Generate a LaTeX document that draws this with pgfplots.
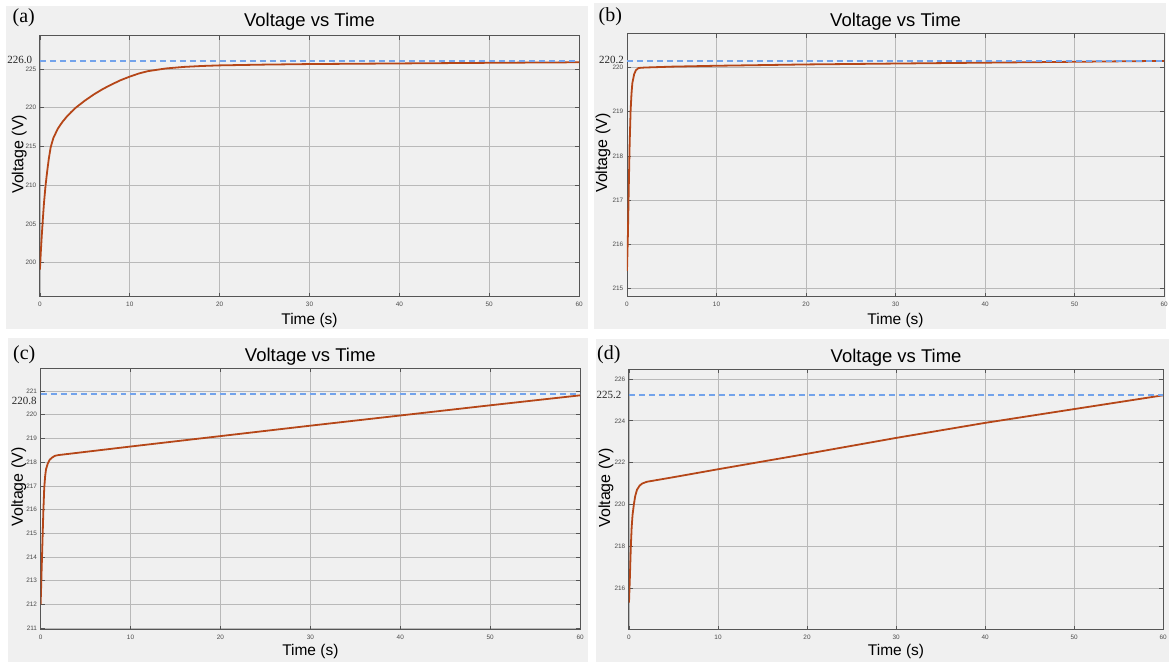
\documentclass[border=0pt]{standalone}
\usepackage{pgfplots}
\pgfplotsset{compat=1.18}
\usepackage{fontspec}
\setmainfont{Liberation Sans}
\newfontfamily\timesfont{Liberation Serif}

\definecolor{panel}{RGB}{240,240,240}
\definecolor{curvebrown}{RGB}{181,70,24}
\definecolor{dashblue}{RGB}{115,163,235}
\definecolor{gridc}{RGB}{185,185,185}
\definecolor{axc}{RGB}{85,85,85}
\definecolor{tickc}{RGB}{75,75,75}

\pgfplotsset{
  vt/.style={
    scale only axis,
    xmin=0, xmax=60, xtick={0,10,...,60},
    grid=major,
    major grid style={color=gridc, line width=0.7pt},
    tick align=inside,
    major tick length=4pt,
    tick style={color=axc, line width=0.7pt},
    axis line style={color=axc, line width=1pt},
    ticklabel style={font=\fontsize{6.4}{7}\selectfont, color=tickc},
    /pgf/number format/assume math mode=true,
    xticklabel style={anchor=center, yshift=-7.5pt},
    yticklabel style={anchor=east, inner sep=0pt, xshift=-3.5pt},
    title={Voltage vs Time},
    title style={at={(0.5,1)}, anchor=base, font=\fontsize{18.5}{20}\selectfont},
    xlabel={Time (s)},
    xlabel style={at={(0.5,0)}, anchor=base, font=\fontsize{15.5}{17}\selectfont},
    ylabel={Voltage (V)},
    ylabel style={anchor=base, font=\fontsize{16}{18}\selectfont},
  },
  vcurve/.style={color=curvebrown, line width=1.8pt, line join=round, no marks},
  vref/.style={color=dashblue, draw=dashblue, line width=2pt, dash pattern=on 6pt off 4pt, no marks},
}

\begin{document}
\begin{tikzpicture}
\fill[white] (0pt,0pt) rectangle (1171pt,663pt);
\fill[panel] (6pt,333pt) rectangle (589pt,657pt);
\fill[panel] (595pt,333pt) rectangle (1168pt,660pt);
\fill[panel] (8pt,0pt) rectangle (589pt,324.5pt);
\fill[panel] (597pt,0pt) rectangle (1171pt,323pt);

% (a)
\begin{axis}[vt, at={(40pt,366pt)}, anchor=south west,
  width=540pt, height=261pt,
  ymin=195.62, ymax=229.25, ytick={200,205,...,225},
  title style={yshift=3.3pt}, xlabel style={yshift=-28pt},
  ylabel style={at={([xshift=-16.7pt]axis description cs:0,0.546)}}]
\addplot[vcurve] coordinates {
  (0,199.1)(0.1,201.4)(0.2,203.4)(0.3,205.2)(0.45,207.7)(0.63,210.0)
  (0.83,212.0)(1.0,213.5)(1.2,214.9)(1.5,216.1)(2,217.3)(2.5,218.15)
  (3,218.85)(3.5,219.45)(4,220.0)(5,220.9)(6,221.7)(7,222.4)(8,223.0)
  (9,223.55)(10,224.0)(11,224.4)(12,224.7)(14,225.05)(16,225.25)
  (18,225.37)(20,225.45)(25,225.55)(30,225.62)(40,225.7)(50,225.78)(60,225.85)
};
\addplot[vref] coordinates {(0,226.0)(60,226.0)};
\end{axis}

% (b)
\begin{axis}[vt, at={(628pt,366pt)}, anchor=south west,
  width=538pt, height=263pt,
  ymin=214.82, ymax=220.76, ytick={215,...,220},
  title style={yshift=1.3pt}, xlabel style={yshift=-28pt},
  ylabel style={at={([xshift=-20pt]axis description cs:0,0.546)}}]
\addplot[vcurve] coordinates {
  (0,215.4)(0.1,216.2)(0.2,217.3)(0.3,218.3)(0.4,219.0)(0.5,219.4)
  (0.6,219.65)(0.8,219.85)(1.0,219.94)(1.3,219.99)(2,220.0)(5,220.02)
  (10,220.04)(20,220.07)(30,220.09)(40,220.11)(50,220.13)(60,220.15)
};
\addplot[vref] coordinates {(0,220.15)(60,220.15)};
\end{axis}

% (c)
\begin{axis}[vt, at={(40.7pt,32.3pt)}, anchor=south west,
  width=540.3pt, height=262pt,
  ymin=210.93, ymax=221.97, ytick={211,...,221},
  title style={yshift=1pt}, xlabel style={yshift=-26pt},
  ylabel style={at={([xshift=-17.7pt]axis description cs:0,0.545)}}]
\addplot[vcurve] coordinates {
  (0,212.0)(0.1,213.3)(0.2,214.6)(0.3,215.9)(0.4,216.9)(0.5,217.4)
  (0.6,217.7)(0.8,217.95)(1.0,218.1)(1.3,218.2)(1.6,218.27)(2,218.3)
  (10,218.66)(20,219.1)(30,219.54)(40,219.97)(50,220.4)(60,220.82)
};
\addplot[vref] coordinates {(0,220.89)(60,220.89)};
\end{axis}

% (d)
\begin{axis}[vt, at={(630pt,32.3pt)}, anchor=south west,
  width=535pt, height=260.7pt,
  ymin=214, ymax=226.46, ytick={216,218,...,226},
  title style={yshift=1.3pt}, xlabel style={yshift=-26pt},
  ylabel style={at={([xshift=-19pt]axis description cs:0,0.544)}}]
\addplot[vcurve] coordinates {
  (0,215.3)(0.1,216.5)(0.2,217.9)(0.3,218.9)(0.4,219.5)(0.55,220.0)
  (0.7,220.4)(0.9,220.7)(1.2,220.9)(1.5,221.0)(2,221.08)(5,221.3)
  (10,221.68)(20,222.42)(30,223.18)(40,223.9)(50,224.56)(60,225.22)
};
\addplot[vref] coordinates {(0,225.23)(60,225.23)};
\end{axis}

% panel letters and reference values
\begin{scope}[every node/.style={inner sep=0pt, anchor=west}]
\node[font=\timesfont\fontsize{20}{22}\selectfont] at (12.5pt,645pt) {(a)};
\node[font=\timesfont\fontsize{20}{22}\selectfont] at (599.5pt,646pt) {(b)};
\node[font=\timesfont\fontsize{20}{22}\selectfont] at (13pt,308pt) {(c)};
\node[font=\timesfont\fontsize{20}{22}\selectfont] at (598pt,308pt) {(d)};
\node[font=\timesfont\fontsize{11}{12}\selectfont, text=black!85] at (7.3pt,603pt) {226.0};
\node[font=\timesfont\fontsize{11}{12}\selectfont, text=black!85] at (600pt,603pt) {220.2};
\node[font=\timesfont\fontsize{11}{12}\selectfont, text=black!85] at (11.7pt,261.3pt) {220.8};
\node[font=\timesfont\fontsize{11}{12}\selectfont, text=black!85] at (597.3pt,267.3pt) {225.2};
\end{scope}
\end{tikzpicture}
\end{document}
